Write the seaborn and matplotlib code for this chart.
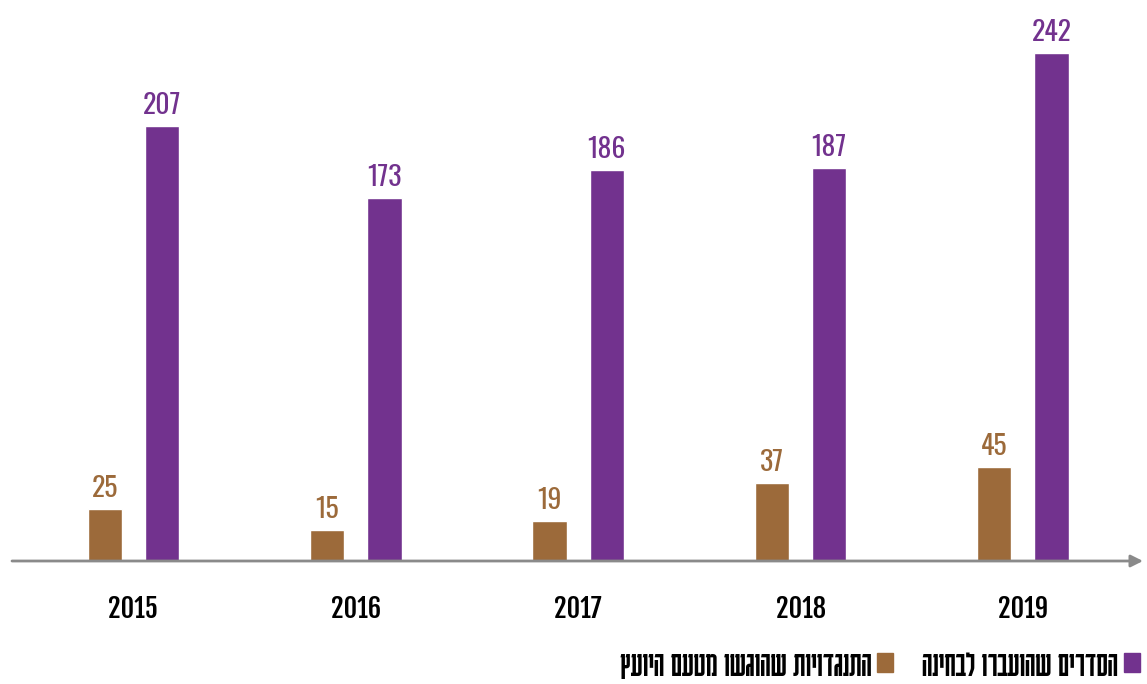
import matplotlib
matplotlib.use("Agg")
import matplotlib.pyplot as plt
from matplotlib.patches import Patch
import seaborn as sns
import pandas as pd

# נתונים
years = ["2015", "2016", "2017", "2018", "2019"]
objections = [25, 15, 19, 37, 45]
arrangements = [207, 173, 186, 187, 242]

label_objections = "התנגדויות שהוגשו מטעם היועץ"
label_arrangements = "הסדרים שהועברו לבחינה"

brown = "#9C6A3A"
purple = "#72328E"

sns.set_style("white")
plt.rcParams['font.family'] = ['Oswald', 'DejaVu Sans']
heb_font = ['Karantina', 'DejaVu Sans']
year_font = ['Fjalla One', 'Oswald', 'DejaVu Sans']


def rtl(s):
    # matplotlib לא מטפל בכיווניות - הופכים את הסדר
    return s[::-1]


df = pd.DataFrame({
    "year": years * 2,
    "value": objections + arrangements,
    "series": ["obj"] * len(years) + ["arr"] * len(years),
})

fig = plt.figure(figsize=(11.47, 6.84), dpi=100)
ax = fig.add_axes([12 / 1147, 1 - 561 / 684, 1131 / 1147, 546 / 684])

sns.barplot(data=df, x="year", y="value", hue="series", hue_order=["obj", "arr"],
            palette=[brown, purple], width=0.514, gap=0.40, ax=ax,
            legend=False, saturation=1)

for cont, col in zip(ax.containers, [brown, purple]):
    ax.bar_label(cont, color=col, fontsize=20, padding=5)

ax.set_xlim(-0.546, 4.54)
ax.set_ylim(0, 260)
ax.set_xlabel("")
ax.set_ylabel("")
ax.set_yticks([])
ax.tick_params(axis="x", length=0, pad=24, labelsize=19, labelcolor="black")
for lbl in ax.get_xticklabels():
    lbl.set_family(year_font)
for sp in ax.spines.values():
    sp.set_visible(False)

# ציר עם חץ
ax.annotate("", xy=(1.0, 0), xytext=(0, 0), xycoords="axes fraction",
            arrowprops=dict(arrowstyle="-|>", color="#8A8A8A", lw=2,
                            mutation_scale=18, shrinkA=0, shrinkB=0))

handles = [Patch(color=brown), Patch(color=purple)]
labels = [rtl(label_objections), rtl(label_arrangements)]
fig.legend(handles, labels, loc="center right", bbox_to_anchor=(1.0, 0.027),
           ncol=2, frameon=False, markerfirst=False,
           prop={"family": heb_font, "size": 26}, labelcolor="black",
           handlelength=0.45, handleheight=0.45, handletextpad=0.15,
           columnspacing=0.8, borderpad=0.0, borderaxespad=0.2)

plt.savefig("out.png", dpi=100)
plt.close()
